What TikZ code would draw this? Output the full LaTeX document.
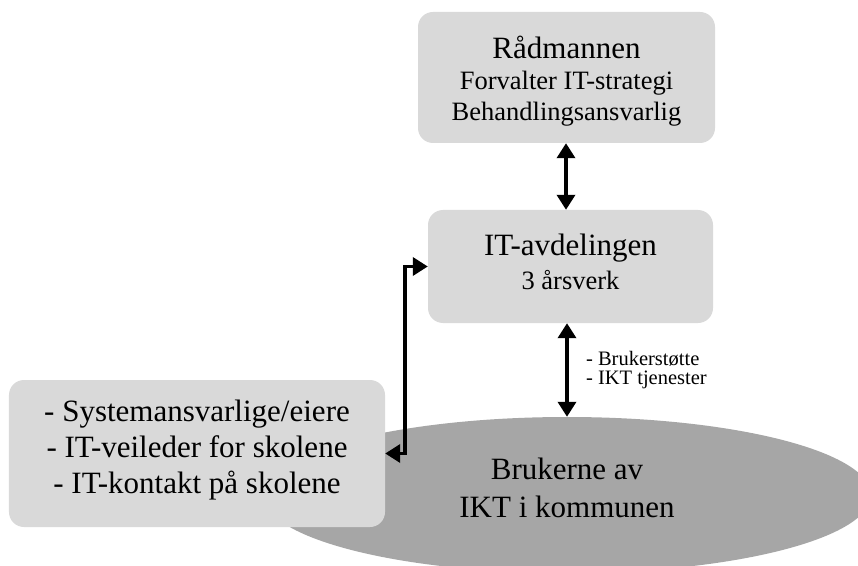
\documentclass[tikz,border=0pt]{standalone}
\usepackage{fontspec}
\setmainfont{Liberation Serif}
\usetikzlibrary{arrows.meta,shapes.geometric}
\definecolor{boxgray}{RGB}{217,217,217}
\definecolor{usergray}{RGB}{166,166,166}
\newcommand{\bigtxt}{\fontsize{31bp}{36bp}\selectfont}
\newcommand{\midtxt}{\fontsize{26.5bp}{31bp}\selectfont}
\newcommand{\smalltxt}{\fontsize{20.5bp}{18.5bp}\selectfont}
\newcommand{\uprule}[1]{\rule{0pt}{#1}}
\newcommand{\downrule}[1]{\rule[-#1]{0pt}{#1}}

\begin{document}
\begin{tikzpicture}[x=1bp, y=-1bp,
        unitbox/.style={rectangle, fill=boxgray, rounded corners=15bp, align=center, text=black},
        users/.style={ellipse, fill=usergray, minimum width=608bp, minimum height=156bp,
                      inner sep=0pt, align=center, font=\bigtxt},
        link/.style={{Triangle[width=18bp,length=15bp]}-{Triangle[width=18bp,length=15bp]}, line width=3.5bp}
    ]
        \useasboundingbox (0,0) rectangle (858,566);
        \clip (0,0) rectangle (858,566);

        % Draw the users first, the unit box lies over it
        \node[users] (bruk) at (567,495) {Brukerne av\\[2bp]IKT i kommunen\downrule{14bp}};

        % Draw the units
        \node[unitbox, minimum width=297bp, minimum height=131bp, font=\midtxt] (rad) at (566.5,77.5)
            {{\bigtxt\uprule{30bp}Rådmannen}\\Forvalter IT-strategi\\Behandlingsansvarlig};
        \node[unitbox, minimum width=285bp, minimum height=113bp, font=\bigtxt] (itavd) at (570.5,266.5)
            {IT-avdelingen\\[-2bp]{\midtxt 3 årsverk\downrule{10bp}}};
        \node[unitbox, minimum width=376bp, minimum height=147bp, font=\bigtxt] (sys) at (197,453.5)
            {- Systemansvarlige/eiere\\- IT-veileder for skolene\\- IT-kontakt på skolene\downrule{13bp}};

        % Add the two-way arrows
        \draw[link] (rad.south -| 566,0) -- (itavd.north -| 566,0);
        \draw[link] (bruk.north |- itavd.south) -- (bruk.north)
            node[midway, right=14bp, align=left, font=\smalltxt] (tjen) {- Brukerstøtte\\- IKT tjenester};
        \draw[link] (sys.east) -| ([xshift=-23bp]itavd.west) -- (itavd.west);

    \end{tikzpicture}
\end{document}
